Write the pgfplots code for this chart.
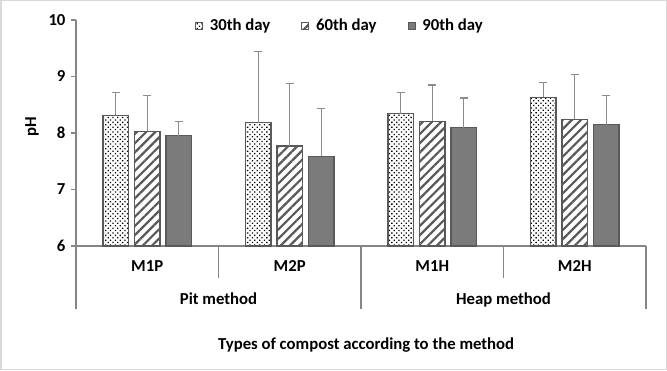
\documentclass[border=0pt]{standalone}
\usepackage{pgfplots}
\pgfplotsset{compat=1.18}
\usepackage{pgfplotstable}
\usepackage{fontspec}
\setmainfont{Carlito}
\usetikzlibrary{patterns,patterns.meta}
\definecolor{edge}{HTML}{595959}
\definecolor{fillgray}{HTML}{7B7B7B}
\definecolor{errgray}{HTML}{8C8C8C}
\definecolor{axgray}{HTML}{868686}
\definecolor{framegray}{HTML}{D9D9D9}

\pgfplotstableread{
x y e
0.5 8.31 0.41
1.5 8.18 1.27
2.5 8.34 0.38
3.5 8.63 0.27
}\dayA
\pgfplotstableread{
x y e
0.5 8.03 0.64
1.5 7.77 1.11
2.5 8.21 0.64
3.5 8.24 0.79
}\dayB
\pgfplotstableread{
x y e
0.5 7.95 0.26
1.5 7.59 0.85
2.5 8.09 0.53
3.5 8.15 0.52
}\dayC

\newcommand{\lbl}{\bfseries\fontsize{16.8}{19}\selectfont}

\begin{document}
\begin{tikzpicture}[x=1bp,y=1bp]
\useasboundingbox (0,0) rectangle (667,370);
\draw[framegray, line width=1.5bp] (0.75,0.75) rectangle (666.25,369.25);
\begin{axis}[
  at={(76bp,124bp)}, anchor=south west,
  scale only axis, width=570bp, height=226bp,
  xmin=0, xmax=4, ymin=6, ymax=10,
  axis x line*=bottom, axis y line*=left,
  axis line style={axgray, line width=1.1bp},
  ytick={6,7,8,9,10},
  ytick style={axgray, line width=1.1bp},
  tick align=outside, major tick length=5bp,
  xtick={0.5,1.5,2.5,3.5}, xticklabels={M1P,M2P,M1H,M2H},
  xtick style={draw=none},
  xticklabel style={anchor=base, yshift=-20bp},
  yticklabel style={xshift=-2bp},
  /pgf/number format/assume math mode=true,
  tick label style={font=\lbl},
  ylabel={pH}, ylabel style={font=\lbl, at={(axis description cs:-0.077,0.527)}, anchor=center},
  xlabel={Types of compost according to the method},
  xlabel style={font=\lbl, at={(axis description cs:0.509,-0.438)}, anchor=center},
  ybar=6bp, bar width=25.5bp,
  error bars/y dir=plus, error bars/y explicit,
  error bars/error bar style={draw=errgray, line width=1.1bp},
  error bars/error mark options={draw=errgray, rotate=90, mark size=4bp, line width=1.1bp},
  legend columns=3,
  legend style={draw=none, fill=none, font=\lbl, at={(axis description cs:0.463,0.975)}, anchor=center,
    /tikz/every odd column/.append style={column sep=5bp},
    /tikz/every even column/.append style={column sep=29bp}},
  legend image code/.code={\draw[#1, line width=0.8bp] (0bp,-3.5bp) rectangle (7bp,3.5bp);},
  after end axis/.code={
    \draw[axgray, line width=1.1bp] (axis cs:0,6) -- ([yshift=-63bp]axis cs:0,6);
    \draw[axgray, line width=1.1bp] (axis cs:1,6) -- ([yshift=-32bp]axis cs:1,6);
    \draw[axgray, line width=1.1bp] (axis cs:2,6) -- ([yshift=-63bp]axis cs:2,6);
    \draw[axgray, line width=1.1bp] (axis cs:3,6) -- ([yshift=-32bp]axis cs:3,6);
    \draw[axgray, line width=1.1bp] (axis cs:4,6) -- ([yshift=-63bp]axis cs:4,6);
    \node[font=\lbl, anchor=base] at ([yshift=-58bp]axis cs:1,6) {Pit method};
    \node[font=\lbl, anchor=base] at ([yshift=-58bp]axis cs:3,6) {Heap method};
  },
]
\addplot[draw=edge, line width=1.1bp, pattern={Dots[distance=3.4bp, radius=0.9bp, angle=45]}, pattern color=black]
  table[x=x, y=y, y error=e] {\dayA};
\addlegendentry{30th day}
\addplot[draw=edge, line width=1.1bp, pattern={Lines[angle=45, distance=6.5bp, line width=2.2bp]}, pattern color=edge]
  table[x=x, y=y, y error=e] {\dayB};
\addlegendentry{60th day}
\addplot[draw=edge, line width=1.1bp, fill=fillgray]
  table[x=x, y=y, y error=e] {\dayC};
\addlegendentry{90th day}
\end{axis}
\end{tikzpicture}
\end{document}
